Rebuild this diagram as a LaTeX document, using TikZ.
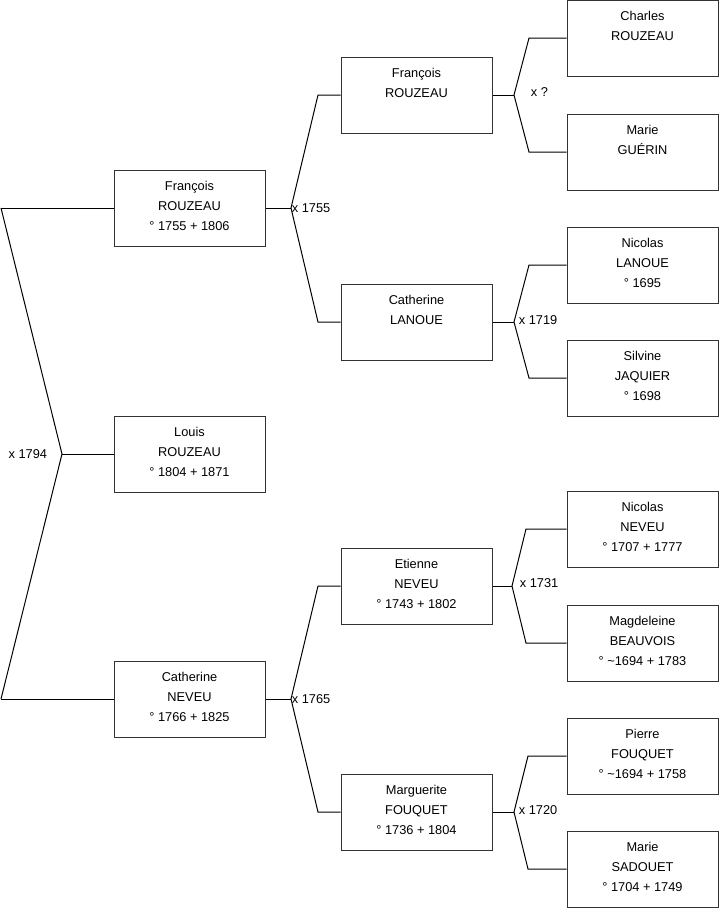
\documentclass[tikz,border=0pt]{standalone}
\usepackage{fontspec}
\setmainfont{Liberation Sans}
\usetikzlibrary{positioning}

\begin{document}
\begin{tikzpicture}[x=0.75pt,y=-0.75pt,
  indiv/.style={draw=black!80, line width=0.75pt, minimum width=113.25pt, minimum height=57pt,
    inner sep=0pt, text depth=3pt, align=center, font=\fontsize{9.6}{15}\selectfont},
  link/.style={line width=0.75pt},
  mar/.style={inner sep=0.5pt, font=\fontsize{9.6}{11}\selectfont}]
\useasboundingbox (0,0) rectangle (719,908);
% generation 1 and 2
\node[indiv] (p1) at (189.5,454) {Louis\\ROUZEAU\\° 1804 + 1871};
\node[indiv] (p2) at (189.5,208) {François\\ROUZEAU\\° 1755 + 1806};
\node[indiv] (p3) at (189.5,699) {Catherine\\NEVEU\\° 1766 + 1825};
% generation 3
\node[indiv] (p4) at (416.5,95) {François\\ROUZEAU\\\vphantom{1}};
\node[indiv] (p5) at (416.5,322) {Catherine\\LANOUE\\\vphantom{1}};
\node[indiv] (p6) at (416.5,586) {Etienne\\NEVEU\\° 1743 + 1802};
\node[indiv] (p7) at (416.5,812) {Marguerite\\FOUQUET\\° 1736 + 1804};
% generation 4
\node[indiv] (p8) at (642.5,38) {Charles\\ROUZEAU\\\vphantom{1}};
\node[indiv] (p9) at (642.5,152) {Marie\\GUÉRIN\\\vphantom{1}};
\node[indiv] (p10) at (642.5,265) {Nicolas\\LANOUE\\° 1695};
\node[indiv] (p11) at (642.5,378) {Silvine\\JAQUIER\\° 1698};
\node[indiv] (p12) at (642.5,529) {Nicolas\\NEVEU\\° 1707 + 1777};
\node[indiv] (p13) at (642.5,643) {Magdeleine\\BEAUVOIS\\° \textasciitilde1694 + 1783};
\node[indiv] (p14) at (642.5,756) {Pierre\\FOUQUET\\° \textasciitilde1694 + 1758};
\node[indiv] (p15) at (642.5,869) {Marie\\SADOUET\\° 1704 + 1749};

% junctions and bends
\coordinate (j1) at (62,454);  \coordinate (a2) at (1,208);   \coordinate (a3) at (1,699);
\coordinate (j2) at (291,208); \coordinate (a4) at (318,95);  \coordinate (a5) at (318,322);
\coordinate (j3) at (291,699); \coordinate (a6) at (318,586); \coordinate (a7) at (318,812);
\coordinate (j4) at (514,95);  \coordinate (a8) at (529,38);  \coordinate (a9) at (529,152);
\coordinate (j5) at (514,322); \coordinate (a10) at (529,265); \coordinate (a11) at (529,378);
\coordinate (j6) at (512,586); \coordinate (a12) at (526,529); \coordinate (a13) at (526,643);
\coordinate (j7) at (514,812); \coordinate (a14) at (528,756); \coordinate (a15) at (528,869);

\draw[link] (p1.west) -- (j1); \draw[link] (a2) -- (j1) -- (a3);
\draw[link] (a2) -- (p2.west); \draw[link] (a3) -- (p3.west);
\draw[link] (p2.east) -- (j2); \draw[link] (p4.west) -- (a4) -- (j2) -- (a5) -- (p5.west);
\draw[link] (p3.east) -- (j3); \draw[link] (p6.west) -- (a6) -- (j3) -- (a7) -- (p7.west);
\draw[link] (p4.east) -- (j4); \draw[link] (p8.west) -- (a8) -- (j4) -- (a9) -- (p9.west);
\draw[link] (p5.east) -- (j5); \draw[link] (p10.west) -- (a10) -- (j5) -- (a11) -- (p11.west);
\draw[link] (p6.east) -- (j6); \draw[link] (p12.west) -- (a12) -- (j6) -- (a13) -- (p13.west);
\draw[link] (p7.east) -- (j7); \draw[link] (p14.west) -- (a14) -- (j7) -- (a15) -- (p15.west);

% marriages
\node[mar, anchor=east] (m1) at (48,454) {x 1794};
\node[mar, anchor=west] (m2) at (j2) {x 1755};
\node[mar, anchor=west] (m3) at (j3) {x 1765};
\node[mar, anchor=west] (m4) at (530,92) {x ?};
\node[mar, anchor=west] (m5) at (518,320) {x 1719};
\node[mar, anchor=west] (m6) at (519,583) {x 1731};
\node[mar, anchor=west] (m7) at (518,810) {x 1720};
\end{tikzpicture}
\end{document}
